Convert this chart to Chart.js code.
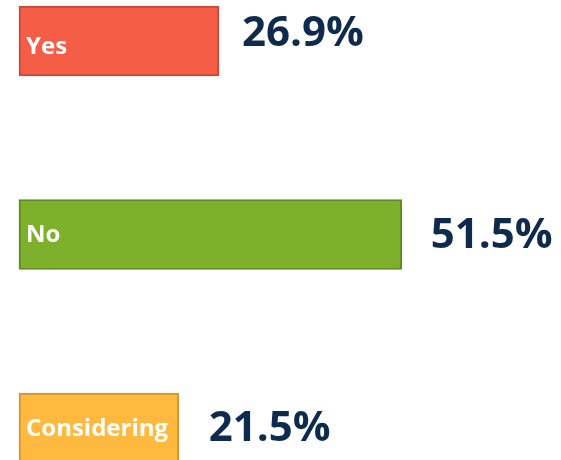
<!DOCTYPE html>
<html>
<head>
<meta charset="utf-8">
<script src="https://cdn.jsdelivr.net/npm/chart.js@4"></script>
<style>
  html, body { margin: 0; padding: 0; background: #fff; }
  #wrap { width: 561px; height: 460px; }
</style>
</head>
<body>
<div id="wrap"><canvas id="chart"></canvas></div>
<script>
const categories = ['Yes', 'No', 'Considering'];
const shares = [26.9, 51.5, 21.5];
const fills = ['#F55D46', '#7DB02B', '#FFB93F'];
const borders = ['#C8493A', '#5E8A1F', '#CF9532'];
const navy = '#0E2B4E';

// small per-bar nudges so the labels sit where the original had them
const valueGap = [23, 29, 30];
const valueShift = [-7, 2, 1];
const nameShift = [6, 1, 1];

const barLabels = {
  id: 'barLabels',
  afterDatasetsDraw(chart) {
    const ctx = chart.ctx;
    const meta = chart.getDatasetMeta(0);
    ctx.save();
    ctx.textBaseline = 'middle';
    ctx.textAlign = 'left';
    meta.data.forEach((bar, i) => {
      ctx.fillStyle = '#fff';
      ctx.font = 'bold 24px "Open Sans"';
      ctx.fillText(categories[i], bar.base + 7, bar.y + nameShift[i]);
      ctx.fillStyle = navy;
      ctx.font = 'bold 42px "Open Sans"';
      ctx.fillText(shares[i].toFixed(1) + '%', bar.x + valueGap[i], bar.y + valueShift[i]);
    });
    ctx.restore();
  }
};

new Chart(document.getElementById('chart'), {
  type: 'bar',
  data: {
    labels: categories,
    datasets: [{
      data: shares,
      backgroundColor: fills,
      borderColor: borders,
      borderWidth: 2,
      borderSkipped: false,
      barThickness: 70,
      clip: false
    }]
  },
  options: {
    indexAxis: 'y',
    responsive: true,
    maintainAspectRatio: false,
    animation: false,
    layout: { padding: { left: 19, right: 96, top: 41, bottom: 32 } },
    plugins: { legend: { display: false }, tooltip: { enabled: false } },
    scales: {
      x: { min: 0, max: 60, display: false },
      y: { display: false, offset: false }
    }
  },
  plugins: [barLabels]
});
</script>
</body>
</html>
